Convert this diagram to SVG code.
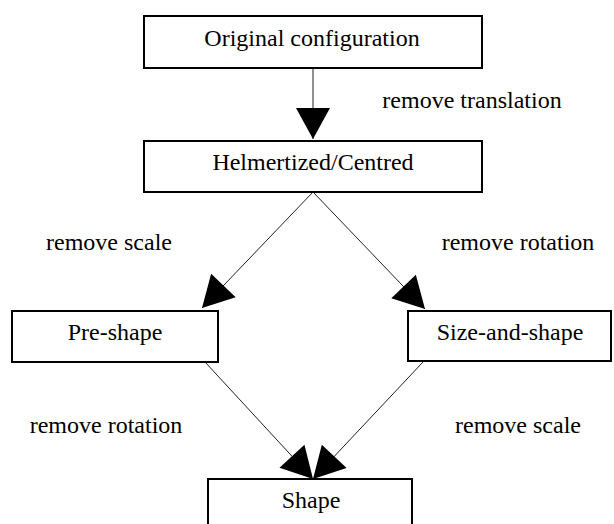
<svg xmlns="http://www.w3.org/2000/svg" width="614" height="524" viewBox="0 0 614 524">
<style>
.box{fill:#fff;stroke:#000;stroke-width:2}
text{font-family:'Liberation Serif','Times New Roman','DejaVu Serif',Times,serif;font-size:24px;fill:#000;text-anchor:middle}
.edge{stroke:#222;stroke-width:1;fill:none;marker-end:url(#ah)}
</style>
<defs>
<marker id="ah" markerUnits="userSpaceOnUse" markerWidth="34" markerHeight="34" viewBox="0 0 31 34" refX="31" refY="17" orient="auto">
<path d="M0,0 L31,17 L0,34 Z" fill="#000"/>
</marker>
</defs>
<rect width="614" height="524" fill="#fff"/>
<g id="edges">
<line class="edge" x1="313" y1="68" x2="313" y2="139"/>
<line class="edge" x1="313" y1="192" x2="202" y2="308"/>
<line class="edge" x1="313" y1="192" x2="425" y2="309"/>
<line class="edge" x1="205" y1="362" x2="313" y2="479"/>
<line class="edge" x1="423" y1="362" x2="313" y2="479"/>
</g>
<g id="labels" font-family="Liberation Serif, serif">
<text x="472" y="108">remove translation</text>
<text x="109" y="250">remove scale</text>
<text x="518" y="250">remove rotation</text>
<text x="106" y="433">remove rotation</text>
<text x="518" y="433">remove scale</text>
</g>
<g id="original">
<rect class="box" x="144" y="16" width="338" height="52"/>
<text x="312" y="46">Original configuration</text>
</g>
<g id="helmertized">
<rect class="box" x="144" y="141" width="338" height="51"/>
<text x="313" y="170">Helmertized/Centred</text>
</g>
<g id="preshape">
<rect class="box" x="12" y="311" width="206" height="51"/>
<text x="115" y="340">Pre-shape</text>
</g>
<g id="sizeandshape">
<rect class="box" x="408" y="311" width="203" height="50"/>
<text x="510" y="340">Size-and-shape</text>
</g>
<g id="shape">
<rect class="box" x="208" y="479" width="204" height="60"/>
<text x="311" y="508">Shape</text>
</g>
</svg>
